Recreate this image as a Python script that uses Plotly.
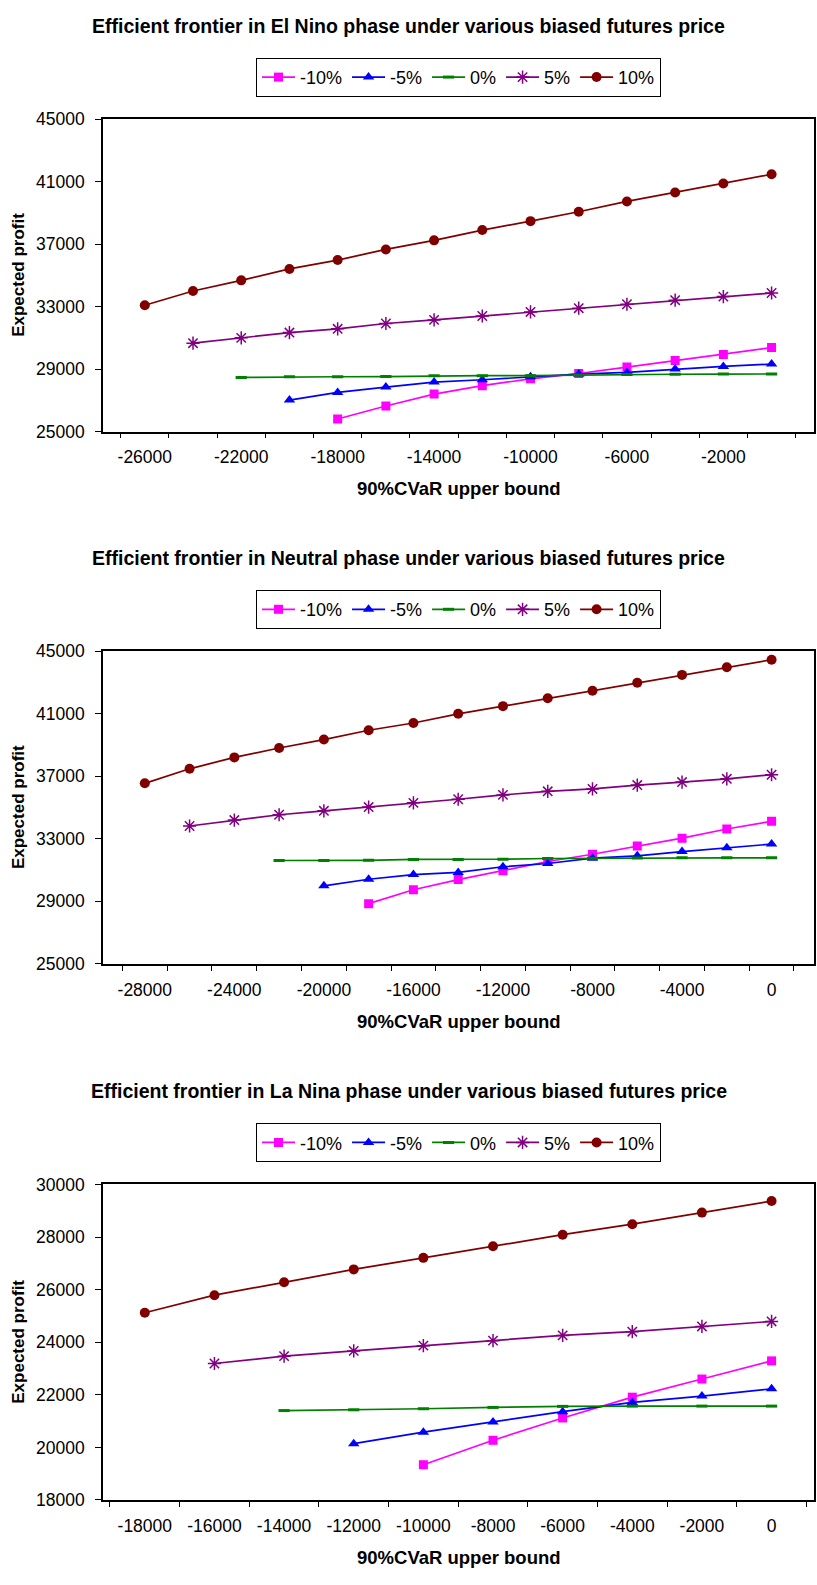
import plotly.graph_objects as go

W, H = 817, 1585

# ---------------- data ----------------
series_names = ["-10%", "-5%", "0%", "5%", "10%"]

elnino_cvar = [-26000, -24000, -22000, -20000, -18000, -16000, -14000,
               -12000, -10000, -8000, -6000, -4000, -2000, 0]
elnino_m10 = [25810, 26640, 27400, 27940, 28380, 28720, 29130, 29550, 29940, 30380]
elnino_m5 = [27020, 27510, 27850, 28170, 28320, 28510, 28680, 28790, 29000, 29170, 29320]
elnino_z0 = [28470, 28510, 28510, 28520, 28570, 28580, 28580, 28620, 28660, 28670, 28680, 28690]
elnino_p5 = [30660, 31000, 31340, 31580, 31920, 32150, 32400, 32660, 32900, 33150, 33410, 33640, 33870]
elnino_p10 = [33090, 34000, 34680, 35410, 35980, 36660, 37240, 37900, 38470, 39070,
              39730, 40300, 40880, 41470]
elnino_ticks = ["-26000", "", "-22000", "", "-18000", "", "-14000", "",
                "-10000", "", "-6000", "", "-2000", ""]

neutral_cvar = [-28000, -26000, -24000, -22000, -20000, -18000, -16000, -14000,
                -12000, -10000, -8000, -6000, -4000, -2000, 0]
neutral_m10 = [28850, 29740, 30390, 30960, 31550, 32010, 32540, 33040, 33630, 34120]
neutral_m5 = [29990, 30410, 30710, 30850, 31210, 31420, 31760, 31910, 32180, 32430, 32660]
neutral_z0 = [31610, 31610, 31620, 31680, 31680, 31690, 31740, 31760, 31770, 31780, 31780, 31780]
neutral_p5 = [33820, 34200, 34540, 34790, 35030, 35300, 35530, 35810, 36040, 36190,
              36440, 36630, 36840, 37100]
neutral_p10 = [36550, 37480, 38210, 38810, 39350, 39950, 40410, 41000, 41490, 41990,
               42480, 42990, 43490, 43980, 44460]
neutral_ticks = ["-28000", "", "-24000", "", "-20000", "", "-16000", "",
                 "-12000", "", "-8000", "", "-4000", "", "0"]

lanina_cvar = [-18000, -16000, -14000, -12000, -10000, -8000, -6000, -4000, -2000, 0]
lanina_m10 = [19340, 20270, 21120, 21910, 22600, 23290]
lanina_m5 = [20140, 20580, 20970, 21360, 21710, 21950, 22230]
lanina_z0 = [21400, 21430, 21470, 21520, 21560, 21570, 21570, 21570]
lanina_p5 = [23190, 23470, 23670, 23870, 24060, 24260, 24400, 24600, 24790]
lanina_p10 = [25120, 25790, 26280, 26770, 27210, 27650, 28090, 28490, 28930, 29370]
lanina_ticks = ["-18000", "-16000", "-14000", "-12000", "-10000", "-8000",
                "-6000", "-4000", "-2000", "0"]

titles = ["Efficient frontier in El Nino phase under various biased futures price",
          "Efficient frontier in Neutral phase under various biased futures price",
          "Efficient frontier in La Nina phase under various biased futures price"]

# ---------------- styles ----------------
FONT = "Liberation Sans, Arial, sans-serif"
TICK = 17.5
colors = ["#FF00FF", "#0000FF", "#008000", "#800080", "#800000"]
markers = [
    dict(symbol="square", size=9),
    dict(symbol="triangle-up", size=10),
    dict(symbol="line-ew", size=8),
    dict(symbol="asterisk-open", size=11),
    dict(symbol="circle", size=10),
]

charts = [
    dict(cvar=elnino_cvar, ticks=elnino_ticks,
         vals=[elnino_m10, elnino_m5, elnino_z0, elnino_p5, elnino_p10],
         yr=[25000, 45000], dy=4000, top=110.5, bot=427, off=0),
    dict(cvar=neutral_cvar, ticks=neutral_ticks,
         vals=[neutral_m10, neutral_m5, neutral_z0, neutral_p5, neutral_p10],
         yr=[25000, 45000], dy=4000, top=649.5, bot=966, off=539),
    dict(cvar=lanina_cvar, ticks=lanina_ticks,
         vals=[lanina_m10, lanina_m5, lanina_z0, lanina_p5, lanina_p10],
         yr=[18000, 30000], dy=2000, top=1189.5, bot=1509, off=1079),
]

PL, PR = 103.0, 814.0
xdom = [PL / W, PR / W]
xc = (PL + PR) / 2 / W

fig = go.Figure()
annotations = []
layout = dict(width=W, height=H, margin=dict(l=0, r=0, t=0, b=0),
              paper_bgcolor="white", plot_bgcolor="white", showlegend=True,
              font=dict(family=FONT, size=TICK, color="black"))

for ci, ch in enumerate(charts, start=1):
    sfx = "" if ci == 1 else str(ci)
    cats = [str(c) for c in ch["cvar"]]
    for si, name in enumerate(series_names):
        vals = ch["vals"][si]
        m = dict(markers[si])
        m["color"] = colors[si]
        m["line"] = dict(color=colors[si], width=1.5 if si == 3 else (3 if si == 2 else 0))
        fig.add_trace(go.Scatter(
            x=cats[len(cats) - len(vals):], y=vals, name=name,
            mode="lines+markers", line=dict(color=colors[si], width=1.7),
            marker=m, xaxis="x" + sfx, yaxis="y" + sfx,
            legend="legend" + sfx, showlegend=True))

    ydom = [1 - ch["bot"] / H, 1 - ch["top"] / H]
    layout["xaxis" + sfx] = dict(
        domain=xdom, anchor="y" + sfx, type="category",
        categoryorder="array", categoryarray=cats,
        tickmode="array", tickvals=cats, ticktext=ch["ticks"], tickangle=0,
        tickson="boundaries", ticks="outside", ticklen=5, tickwidth=1,
        tickcolor="black", showline=True, linecolor="black", linewidth=1.5,
        mirror=True, showgrid=False, zeroline=False, fixedrange=True,
        tickfont=dict(family=FONT, size=TICK, color="black"), ticklabelstandoff=9)
    layout["yaxis" + sfx] = dict(
        domain=ydom, anchor="x" + sfx, range=ch["yr"], dtick=ch["dy"],
        tick0=ch["yr"][0], tickformat="d", ticks="outside", ticklen=6, tickwidth=1,
        tickcolor="black", showline=True, linecolor="black", linewidth=1.5,
        mirror=True, showgrid=False, zeroline=False, fixedrange=True,
        tickfont=dict(family=FONT, size=TICK, color="black"), ticklabelstandoff=7)
    layout["legend" + sfx] = dict(
        orientation="h", x=xc, xanchor="center", y=1 - (48.5 + ch["off"]) / H,
        yanchor="top", bordercolor="black", borderwidth=1, bgcolor="white",
        font=dict(family=FONT, size=18, color="black"), itemwidth=33,
        tracegroupgap=0, itemclick=False)

    off = ch["off"]
    annotations.append(dict(text="<b>" + titles[ci - 1] + "</b>", x=0.5, y=1 - (15.7 + off) / H,
                            xref="paper", yref="paper", showarrow=False,
                            xanchor="center", yanchor="middle",
                            font=dict(family=FONT, size=19.5, color="black")))
    annotations.append(dict(text="<b>90%CVaR upper bound</b>", x=xc, y=1 - (ch["bot"] + 58) / H,
                            xref="paper", yref="paper", showarrow=False,
                            xanchor="center", yanchor="middle",
                            font=dict(family=FONT, size=18.5, color="black")))
    annotations.append(dict(text="<b>Expected profit</b>", x=18.5 / W,
                            y=1 - ((ch["top"] + ch["bot"]) / 2) / H,
                            xref="paper", yref="paper", showarrow=False, textangle=-90,
                            xanchor="center", yanchor="middle",
                            font=dict(family=FONT, size=17, color="black")))

layout["annotations"] = annotations
fig.update_layout(**layout)
fig.write_html("out.html", config={"displayModeBar": False},
               post_script="document.body.style.margin='0';document.body.style.overflow='hidden';")
